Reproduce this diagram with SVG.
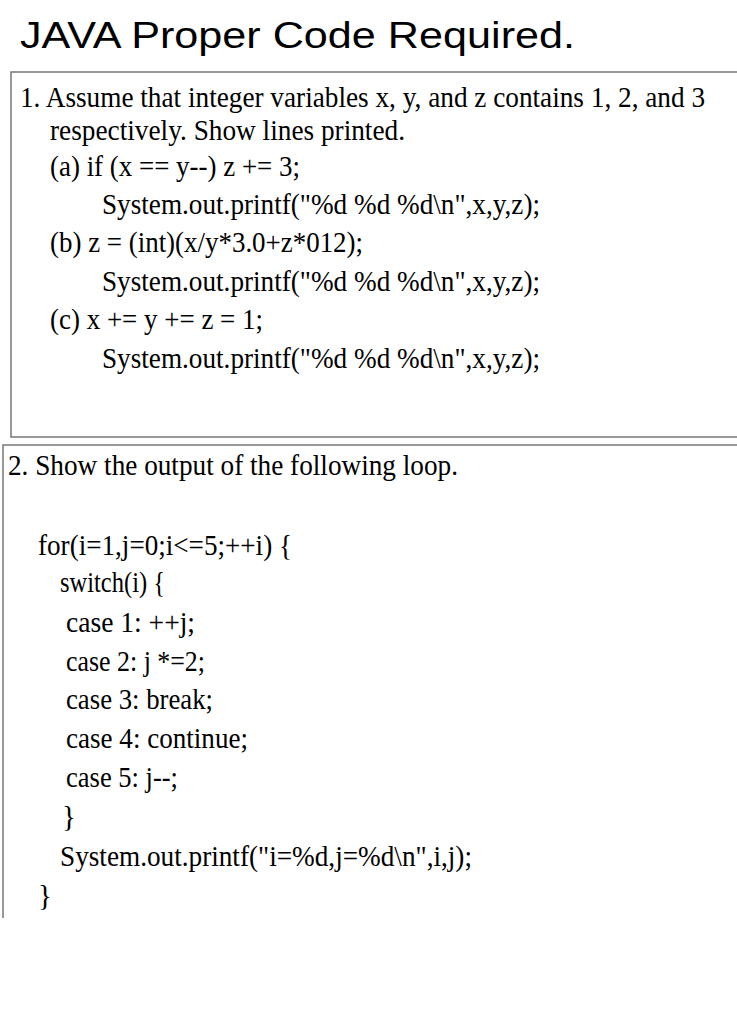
<svg xmlns="http://www.w3.org/2000/svg" width="737" height="1024" viewBox="0 0 737 1024">
<style>
.t{font-family:"Liberation Serif","Times New Roman",serif;font-size:29px;fill:#000}
.b{fill:none;stroke:#777;stroke-width:1.5}
</style>
<rect width="737" height="1024" fill="#fff"/>
<text x="20" y="48" font-family="Liberation Sans,Arial,sans-serif" font-size="37" textLength="555" lengthAdjust="spacingAndGlyphs">JAVA Proper Code Required.</text>
<path class="b" d="M740 72H11V437H740"/>
<path class="b" d="M740 445H3V918"/>
<g class="t">
<text x="20" y="107" textLength="685" lengthAdjust="spacingAndGlyphs">1. Assume that integer variables x, y, and z contains 1, 2, and 3</text>
<text x="50" y="140" textLength="355" lengthAdjust="spacingAndGlyphs">respectively. Show lines printed.</text>
<text x="50" y="176" textLength="250" lengthAdjust="spacingAndGlyphs">(a) if (x == y--) z += 3;</text>
<text x="102" y="214" textLength="438" lengthAdjust="spacingAndGlyphs">System.out.printf("%d %d %d\n",x,y,z);</text>
<text x="50" y="252" textLength="313" lengthAdjust="spacingAndGlyphs">(b) z = (int)(x/y*3.0+z*012);</text>
<text x="102" y="291" textLength="438" lengthAdjust="spacingAndGlyphs">System.out.printf("%d %d %d\n",x,y,z);</text>
<text x="50" y="329" textLength="213" lengthAdjust="spacingAndGlyphs">(c) x += y += z = 1;</text>
<text x="102" y="368" textLength="438" lengthAdjust="spacingAndGlyphs">System.out.printf("%d %d %d\n",x,y,z);</text>
<text x="8" y="475" textLength="450" lengthAdjust="spacingAndGlyphs">2. Show the output of the following loop.</text>
<text x="38" y="555" textLength="254" lengthAdjust="spacingAndGlyphs">for(i=1,j=0;i&lt;=5;++i) {</text>
<text x="60" y="592" textLength="105" lengthAdjust="spacingAndGlyphs">switch(i) {</text>
<text x="66" y="632" textLength="129" lengthAdjust="spacingAndGlyphs">case 1: ++j;</text>
<text x="66" y="671" textLength="139" lengthAdjust="spacingAndGlyphs">case 2: j *=2;</text>
<text x="66" y="709" textLength="147" lengthAdjust="spacingAndGlyphs">case 3: break;</text>
<text x="66" y="748" textLength="182" lengthAdjust="spacingAndGlyphs">case 4: continue;</text>
<text x="66" y="787" textLength="112" lengthAdjust="spacingAndGlyphs">case 5: j--;</text>
<text x="62" y="826">}</text>
<text x="60" y="866" textLength="412" lengthAdjust="spacingAndGlyphs">System.out.printf("i=%d,j=%d\n",i,j);</text>
<text x="38" y="905">}</text>
</g>
</svg>
